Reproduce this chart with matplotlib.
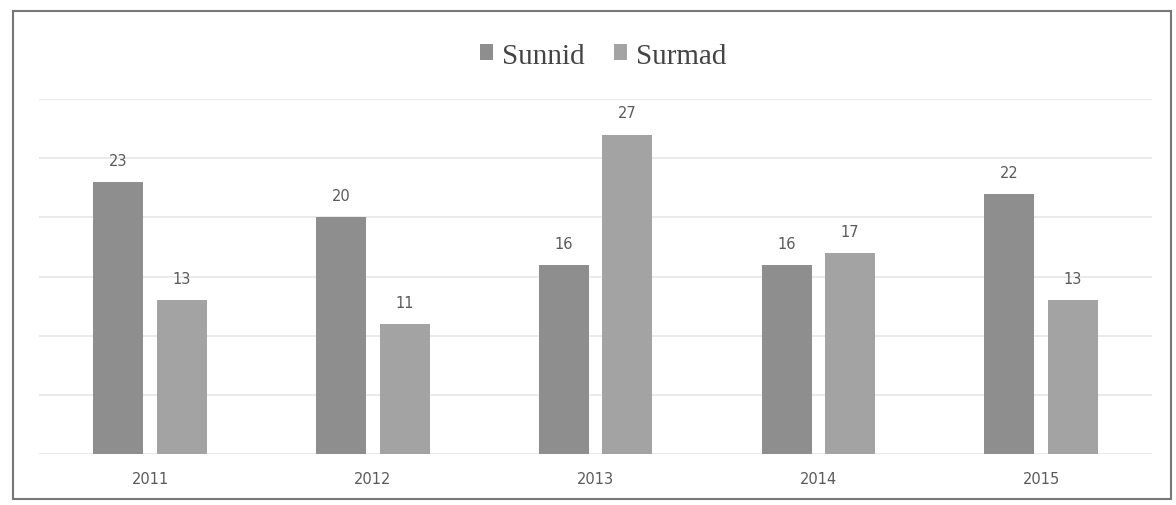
import numpy as np
import matplotlib.pyplot as plt
from matplotlib.patches import Rectangle

years = ['2011', '2012', '2013', '2014', '2015']
sunnid = [23, 20, 16, 16, 22]
surmad = [13, 11, 27, 17, 13]

fig = plt.figure(figsize=(11.76, 5.06), dpi=100)
ax = fig.add_axes([0.033, 0.101, 0.947, 0.701])

x = np.arange(len(years))
w = 0.225
gap = 0.03
b1 = ax.bar(x - w / 2 - gap, sunnid, w, color='#8e8e8e', label='Sunnid')
b2 = ax.bar(x + w / 2 + gap, surmad, w, color='#a3a3a3', label='Surmad')

for bars in (b1, b2):
    for r in bars:
        ax.text(r.get_x() + r.get_width() / 2, r.get_height() + 1.2, str(int(r.get_height())),
                ha='center', va='bottom', fontsize=10.5, color='#5a5a5a')

ax.set_xlim(-0.5, len(years) - 0.5)
ax.set_ylim(0, 30)
ax.set_yticks(np.arange(0, 31, 5))
ax.set_yticklabels([])
ax.tick_params(axis='y', length=0)
ax.tick_params(axis='x', length=0, labelsize=10.5, labelcolor='#5a5a5a', pad=12)
ax.set_xticks(x)
ax.set_xticklabels(years)
ax.grid(axis='y', color='#e6e6e6', linewidth=1.2)
ax.set_axisbelow(True)
for s in ax.spines.values():
    s.set_visible(False)

leg = fig.legend(loc='center', bbox_to_anchor=(0.513, 0.888), ncol=2, frameon=False,
                 prop={'family': 'Liberation Serif', 'size': 21},
                 handlelength=0.45, handleheight=0.45, handletextpad=0.3, columnspacing=1.0)
for t in leg.get_texts():
    t.set_color('#444444')

fig.patches.append(Rectangle((0.011, 0.012), 0.985, 0.965, transform=fig.transFigure,
                             fill=False, edgecolor='#777777', linewidth=1.5))

fig.savefig('out.png', dpi=100)
